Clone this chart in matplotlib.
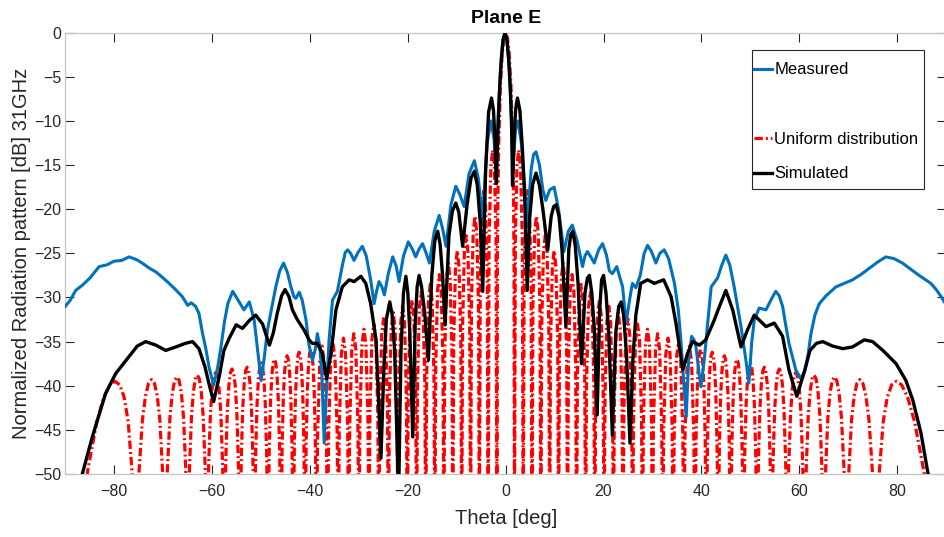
import numpy as np
import matplotlib
matplotlib.use("Agg")
import matplotlib.pyplot as plt
from matplotlib.lines import Line2D
from matplotlib.patches import Rectangle

plt.rcParams['font.family'] = ['Liberation Sans', 'DejaVu Sans']
plt.rcParams['lines.scale_dashes'] = False

# ---------------- data ----------------
# Measured pattern (deg, dB)
measured_theta = [
    -90.0, -89.0, -87.9, -86.5, -85.0, -83.1, -81.5, -80.1, -78.5, -77.0,
    -75.5, -74.3, -72.8, -71.5, -70.0, -68.8, -67.5, -66.1, -65.0, -64.3,
    -63.4, -62.7, -62.0, -61.3, -60.6, -59.7, -58.9, -58.2, -57.5, -56.8,
    -55.8, -54.5, -53.5, -52.4, -51.4, -50.7, -50.0, -49.4, -48.7, -47.0,
    -46.2, -45.4, -44.6, -43.9, -43.3, -42.9, -42.2, -41.6, -40.8, -40.2,
    -39.5, -38.9, -38.5, -38.0, -37.6, -37.1, -36.6, -36.1, -35.4, -34.4,
    -33.4, -32.8, -32.3, -31.7, -31.0, -30.2, -29.3, -28.5, -27.6, -26.9,
    -26.4, -25.9, -25.3, -24.8, -24.0, -23.1, -22.4, -21.8, -20.9, -19.9,
    -19.1, -18.4, -17.7, -17.0, -16.3, -15.6, -14.6, -13.6, -12.9, -12.2,
    -11.2, -10.2, -9.4, -8.5, -7.5, -6.4, -5.6, -4.7, -3.8, -3.0,
    -2.4, -1.9, -1.5, -1.1, -0.6, -0.15, 0.3, 0.75, 1.1, 1.5,
    2.0, 2.5, 3.2, 3.9, 4.4, 5.2, 5.7, 6.2, 6.9, 7.6,
    8.2, 9.0, 9.9, 10.8, 11.9, 12.8, 13.6, 14.6, 15.7, 16.2,
    16.7, 17.4, 18.1, 19.0, 19.8, 20.6, 21.2, 21.8, 22.7, 23.9,
    24.6, 25.4, 25.9, 26.6, 27.5, 28.3, 29.0, 29.8, 30.7, 31.5,
    32.4, 33.3, 34.5, 35.3, 35.8, 36.5, 36.9, 37.4, 38.0, 38.5,
    38.9, 39.5, 39.9, 40.6, 41.3, 42.0, 43.3, 44.2, 45.0, 45.8,
    46.7, 48.1, 49.1, 49.7, 50.3, 50.8, 51.8, 53.2, 54.3, 55.2,
    55.9, 56.6, 57.2, 57.9, 59.3, 60.3, 61.2, 61.8, 62.4, 63.2,
    64.1, 65.5, 67.5, 69.2, 70.9, 72.6, 74.3, 76.0, 77.7, 79.4,
    81.1, 82.8, 84.5, 86.9, 88.0, 89.0, 90.0,
]
measured_db = [
    -31.0, -30.3, -29.2, -28.6, -27.8, -26.5, -26.3, -25.9, -25.8, -25.4,
    -25.7, -26.1, -26.7, -27.1, -27.8, -28.4, -29.1, -29.9, -30.9, -30.6,
    -31.0, -31.8, -34.0, -35.8, -38.0, -39.9, -38.0, -35.6, -32.8, -30.7,
    -29.3, -30.5, -31.4, -30.5, -32.6, -36.0, -39.4, -37.0, -33.7, -28.8,
    -27.0, -26.1, -27.2, -28.8, -29.9, -30.1, -29.4, -30.3, -32.6, -35.4,
    -37.1, -35.8, -34.1, -35.5, -38.5, -46.5, -40.0, -34.8, -30.3, -29.3,
    -26.4, -24.9, -24.6, -25.0, -25.8, -24.9, -24.2, -25.3, -28.0, -30.7,
    -29.3, -28.2, -28.8, -29.7, -27.3, -25.4, -26.4, -28.2, -25.3, -23.7,
    -24.5, -25.4, -24.5, -23.9, -24.9, -26.1, -22.5, -20.7, -22.2, -24.2,
    -19.5, -17.4, -18.3, -19.7, -16.0, -14.5, -16.5, -21.2, -12.5, -10.0,
    -12.0, -16.0, -9.0, -4.5, -1.2, 0.0, -1.0, -4.0, -8.5, -15.5,
    -11.0, -10.0, -12.5, -17.5, -22.0, -15.5, -13.8, -13.5, -15.0, -17.8,
    -19.0, -17.8, -17.5, -20.0, -24.8, -22.5, -21.8, -23.6, -26.5, -25.3,
    -24.8, -25.4, -26.1, -24.6, -23.9, -25.2, -27.0, -27.3, -26.5, -28.8,
    -32.9, -30.0, -28.4, -28.9, -27.5, -25.0, -24.1, -24.8, -26.1, -25.0,
    -24.6, -25.6, -28.4, -31.5, -34.8, -40.5, -43.5, -37.0, -34.4, -34.8,
    -35.6, -38.5, -40.1, -37.0, -32.8, -28.8, -27.8, -26.3, -25.2, -26.3,
    -28.8, -33.3, -37.1, -39.7, -35.0, -32.6, -31.2, -31.4, -30.2, -29.3,
    -29.8, -31.0, -33.0, -35.2, -38.2, -39.2, -38.2, -36.5, -34.1, -32.0,
    -30.7, -29.8, -28.8, -28.4, -28.0, -27.4, -26.7, -26.0, -25.4, -25.6,
    -26.1, -26.8, -27.5, -28.4, -29.1, -29.9, -30.8,
]

# Simulated pattern (deg, dB)
simulated_theta = [
    -88.0, -86.5, -84.5, -81.8, -79.7, -77.0, -75.3, -73.6, -71.5, -69.5,
    -67.4, -65.5, -64.0, -62.7, -61.5, -60.6, -59.7, -58.5, -57.6, -56.5,
    -55.1, -53.8, -52.4, -51.1, -49.7, -48.3, -47.5, -46.7, -45.8, -45.1,
    -44.3, -43.6, -42.6, -41.2, -40.2, -39.5, -38.5, -37.5, -36.6, -35.7,
    -34.7, -33.4, -32.0, -31.0, -29.6, -28.6, -27.6, -26.5, -25.5, -24.9,
    -24.4, -23.7, -23.2, -22.7, -21.9, -21.4, -20.9, -20.4, -20.0, -19.6,
    -19.0, -18.5, -18.1, -17.7, -17.2, -16.6, -15.8, -15.1, -14.5, -13.9,
    -13.4, -12.9, -12.4, -11.6, -10.9, -10.2, -9.6, -8.8, -7.9, -7.1,
    -6.4, -5.8, -5.2, -4.7, -4.1, -3.5, -2.9, -2.5, -2.2, -1.9,
    -1.55, -1.25, -0.9, -0.55, -0.15, 0.25, 0.6, 0.95, 1.2, 1.4,
    1.75, 2.05, 2.4, 2.9, 3.4, 3.9, 4.4, 4.9, 5.5, 6.2,
    6.9, 7.6, 8.6, 9.3, 9.8, 10.3, 10.9, 11.5, 12.3, 12.9,
    13.3, 13.7, 14.2, 14.8, 15.5, 16.2, 16.7, 17.1, 17.6, 18.1,
    18.7, 19.2, 19.6, 20.0, 20.5, 21.1, 21.8, 22.5, 23.1, 23.6,
    24.1, 24.7, 25.4, 26.0, 26.6, 27.6, 29.0, 30.4, 32.3, 33.8,
    34.8, 36.2, 37.2, 38.2, 39.6, 40.9, 42.6, 43.7, 45.0, 46.4,
    48.1, 49.4, 50.8, 53.2, 54.9, 56.6, 57.9, 59.5, 61.0, 62.2,
    63.5, 64.8, 66.8, 68.9, 70.9, 73.3, 75.0, 77.1, 79.8, 81.8,
    83.2, 84.9, 86.3, 88.0,
]
simulated_db = [
    -53.5, -49.9, -45.8, -40.9, -38.6, -36.7, -35.5, -35.0, -35.4, -36.0,
    -35.6, -35.2, -35.0, -35.8, -37.8, -39.9, -41.8, -38.8, -36.0, -34.6,
    -33.1, -33.5, -32.6, -32.0, -33.0, -35.4, -34.0, -31.8, -29.8, -29.1,
    -29.9, -31.4, -32.5, -33.7, -34.8, -35.2, -35.2, -36.3, -39.2, -36.3,
    -31.4, -28.8, -28.0, -28.2, -27.6, -28.4, -30.7, -34.8, -48.2, -38.0,
    -32.5, -30.5, -32.0, -36.0, -53.0, -36.0, -29.5, -27.6, -29.5, -34.0,
    -45.8, -33.0, -28.8, -27.5, -28.8, -31.5, -37.1, -27.5, -23.6, -22.5,
    -24.0, -27.5, -33.1, -23.0, -20.2, -19.3, -20.3, -24.2, -19.5, -16.5,
    -15.7, -17.3, -21.5, -29.3, -15.5, -9.0, -7.4, -8.8, -12.0, -17.1,
    -10.5, -6.5, -3.0, -0.8, 0.0, -0.8, -3.0, -6.5, -10.5, -17.3,
    -11.5, -8.6, -7.4, -8.8, -13.0, -19.0, -29.2, -21.0, -17.2, -15.9,
    -17.3, -20.0, -24.6, -20.8, -19.7, -19.5, -20.8, -24.5, -33.3, -24.5,
    -22.9, -22.5, -24.0, -28.5, -37.5, -29.5, -27.8, -27.5, -29.5, -33.5,
    -43.3, -31.5, -28.0, -27.5, -29.5, -34.5, -45.6, -34.0, -31.0, -30.5,
    -32.0, -36.5, -46.5, -37.0, -32.0, -28.4, -28.0, -28.4, -28.0, -29.9,
    -32.9, -38.2, -36.3, -35.0, -35.4, -34.8, -32.6, -31.0, -29.2, -31.4,
    -35.6, -33.7, -32.0, -33.3, -32.9, -34.4, -38.2, -41.2, -38.5, -36.0,
    -35.2, -35.0, -35.5, -35.8, -35.6, -34.8, -35.0, -36.0, -37.5, -39.4,
    -41.6, -45.4, -49.9, -54.0,
]

# Uniform distribution, one side of the symmetric pattern (theta >= 0)
uniform_theta_half = [
    0.00, 0.36, 0.72, 1.07, 1.43, 1.61, 1.70, 1.79,
    1.97, 2.30, 2.65, 3.02, 3.40, 3.58,
    3.76, 4.12, 4.48, 4.84, 5.20, 5.38,
    5.56, 5.92, 6.28, 6.64, 7.00, 7.18,
    7.36, 7.72, 8.09, 8.45, 8.81, 8.99,
    9.17, 9.54, 9.90, 10.26, 10.63, 10.81,
    10.99, 11.36, 11.72, 12.09, 12.46, 12.64,
    12.82, 13.19, 13.56, 13.93, 14.30, 14.48,
    14.67, 15.04, 15.41, 15.78, 16.15, 16.34,
    16.53, 16.90, 17.28, 17.65, 18.02, 18.21,
    18.40, 18.78, 19.16, 19.54, 19.92, 20.11,
    20.30, 20.68, 21.07, 21.45, 21.83, 22.02,
    22.22, 22.61, 23.00, 23.39, 23.78, 23.97,
    24.17, 24.56, 24.96, 25.35, 25.74, 25.94,
    26.14, 26.54, 26.95, 27.35, 27.75, 27.95,
    28.16, 28.57, 28.98, 29.39, 29.80, 30.00,
    30.21, 30.63, 31.05, 31.46, 31.88, 32.09,
    32.30, 32.73, 33.16, 33.59, 34.02, 34.23,
    34.45, 34.89, 35.33, 35.76, 36.20, 36.42,
    36.65, 37.10, 37.55, 38.00, 38.45, 38.68,
    38.91, 39.15, 39.38, 39.61, 39.85, 40.08, 40.31, 40.54, 40.78, 41.01,
    41.25, 41.49, 41.74, 41.98, 42.22, 42.46, 42.70, 42.95, 43.19, 43.43,
    43.68, 43.93, 44.19, 44.44, 44.69, 44.94, 45.19, 45.45, 45.70, 45.95,
    46.21, 46.48, 46.74, 47.01, 47.27, 47.53, 47.80, 48.06, 48.33, 48.59,
    48.87, 49.15, 49.43, 49.71, 49.99, 50.26, 50.54, 50.82, 51.10, 51.38,
    51.68, 51.97, 52.27, 52.56, 52.86, 53.16, 53.45, 53.75, 54.04, 54.34,
    54.66, 54.98, 55.30, 55.62, 55.94, 56.25, 56.57, 56.89, 57.21, 57.53,
    57.88, 58.23, 58.59, 58.94, 59.29, 59.64, 60.00, 60.35, 60.70, 61.05,
    61.45, 61.84, 62.24, 62.63, 63.03, 63.43, 63.82, 64.22, 64.61, 65.01,
    65.42, 65.85, 66.30, 66.75, 67.20, 67.67, 68.14, 68.63, 69.13, 69.64,
    70.16, 70.69, 71.24, 71.81, 72.39, 72.99, 73.61, 74.26, 74.93, 75.64,
    75.82, 76.38, 77.16, 77.99, 78.89, 79.86, 80.93, 82.15, 83.59, 85.47, 86.80, 90.00,
]
uniform_db_half = [
    0.0, -0.6, -2.4, -5.9, -12.6, -19.2, -25.6, -58.0,
    -23.5, -15.1, -13.3, -15.1, -23.5, -58.0,
    -28.1, -19.7, -17.9, -19.7, -28.1, -58.0,
    -31.0, -22.6, -20.8, -22.6, -31.0, -58.0,
    -33.2, -24.8, -23.0, -24.8, -33.2, -58.0,
    -34.9, -26.5, -24.7, -26.5, -34.9, -58.0,
    -36.3, -27.9, -26.1, -27.9, -36.3, -58.0,
    -37.6, -29.2, -27.4, -29.2, -37.6, -58.0,
    -38.7, -30.3, -28.5, -30.3, -38.7, -58.0,
    -39.6, -31.2, -29.4, -31.2, -39.6, -58.0,
    -40.5, -32.1, -30.3, -32.1, -40.5, -58.0,
    -41.2, -32.8, -31.0, -32.8, -41.2, -58.0,
    -41.9, -33.5, -31.7, -33.5, -41.9, -58.0,
    -42.6, -34.2, -32.4, -34.2, -42.6, -58.0,
    -43.2, -34.8, -33.0, -34.8, -43.2, -58.0,
    -43.8, -35.4, -33.6, -35.4, -43.8, -58.0,
    -44.3, -35.9, -34.1, -35.9, -44.3, -58.0,
    -44.8, -36.4, -34.6, -36.4, -44.8, -58.0,
    -45.3, -36.9, -35.1, -36.9, -45.3, -58.0,
    -45.7, -37.3, -35.5, -37.3, -45.7, -58.0,
    -46.1, -40.5, -37.7, -36.3, -35.9, -36.3, -37.7, -40.5, -46.1, -58.0,
    -46.4, -40.8, -38.0, -36.6, -36.2, -36.6, -38.0, -40.8, -46.4, -58.0,
    -46.8, -41.2, -38.4, -37.0, -36.6, -37.0, -38.4, -41.2, -46.8, -58.0,
    -47.2, -41.6, -38.8, -37.4, -37.0, -37.4, -38.8, -41.6, -47.2, -58.0,
    -47.6, -42.0, -39.2, -37.8, -37.4, -37.8, -39.2, -42.0, -47.6, -58.0,
    -48.1, -42.5, -39.7, -38.3, -37.9, -38.3, -39.7, -42.5, -48.1, -58.0,
    -48.3, -42.7, -39.9, -38.5, -38.1, -38.5, -39.9, -42.7, -48.3, -58.0,
    -48.7, -43.1, -40.3, -38.9, -38.5, -38.9, -40.3, -43.1, -48.7, -58.0,
    -49.0, -43.4, -40.6, -39.2, -38.8, -39.2, -40.6, -43.4, -49.0, -58.0,
    -49.2, -43.6, -40.8, -39.4, -39.0, -39.4, -40.8, -43.6, -49.2, -58.0,
    -49.5, -43.9, -41.1, -39.7, -39.3, -39.7, -41.1, -43.9, -49.5, -58.0,
    -55.6, -49.7, -44.1, -41.3, -39.9, -39.5, -39.9, -41.3, -44.1, -49.7, -55.6, -58.0,
]

x_ticks = [-80, -60, -40, -20, 0, 20, 40, 60, 80]
y_ticks = [0, -5, -10, -15, -20, -25, -30, -35, -40, -45, -50]
series_labels = ["Measured", "Uniform distribution", "Simulated"]

# mirror the half pattern to cover -90..90
uh_t = np.asarray(uniform_theta_half)
uh_d = np.asarray(uniform_db_half)
uniform_theta = np.concatenate([-uh_t[:0:-1], uh_t])
uniform_db = np.concatenate([uh_d[:0:-1], uh_d])

# ---------------- figure ----------------
W, H = 944, 537
fig = plt.figure(figsize=(W / 100, H / 100), dpi=100)
ax = fig.add_axes([65.4 / W, 63.0 / H, 880.6 / W, 441.3 / H])

BLUE = '#0072BD'
GRAY = '#262626'

red_line, = ax.plot(uniform_theta, uniform_db, color='#FF0000', lw=2.3,
                    linestyle=(0, (6, 2.2, 1.4, 2.2)), zorder=2)
blue_line, = ax.plot(measured_theta, measured_db, color=BLUE, lw=2.2, zorder=3,
                     solid_joinstyle='round')
black_line, = ax.plot(simulated_theta, simulated_db, color='black', lw=2.4, zorder=4,
                      solid_joinstyle='round')

ax.set_xlim(-90, 90)
ax.set_ylim(-50, 0)
ax.set_xticks(x_ticks)
ax.set_yticks(y_ticks)
ax.tick_params(axis='both', which='both', direction='in', length=6.5, width=0.8,
               colors=GRAY, labelsize=11.5, top=True, right=True)
ax.tick_params(axis='x', pad=7)
ax.tick_params(axis='y', pad=3)
for sp in ax.spines.values():
    sp.set_color('#c4c4c4')
    sp.set_linewidth(0.9)

ax.set_xlabel('Theta [deg]', fontsize=14.5, color=GRAY)
ax.set_ylabel('Normalized Radiation pattern [dB] 31GHz', fontsize=14.5, color=GRAY)
ax.xaxis.set_label_coords(0.5, -0.079)
ax.yaxis.set_label_coords(-0.0395, 0.5)
ax.set_title('Plane E', fontsize=14, fontweight='bold', pad=6.8)

# legend: blank row between the first two entries
blank = Line2D([], [], linestyle='none')
handles = [blue_line, blank, red_line, black_line]
labels = [series_labels[0], ' ', series_labels[1], series_labels[2]]
leg = fig.legend(handles, labels, loc='upper left',
                 bbox_to_anchor=(754.3 / W, 1 - 62.5 / H),
                 bbox_transform=fig.transFigure, frameon=False,
                 fontsize=12, handlelength=1.08, handletextpad=0.12,
                 labelspacing=1.18, borderpad=0.0, borderaxespad=0.0)
for t in leg.get_texts():
    t.set_color('black')
fig.patches.append(Rectangle((752.3 / W, 1 - 189.0 / H), 172.0 / W, 139.0 / H,
                             transform=fig.transFigure, facecolor='white',
                             edgecolor=GRAY, linewidth=0.8, zorder=0))
leg.set_zorder(10)

fig.savefig('out.png', dpi=100)
